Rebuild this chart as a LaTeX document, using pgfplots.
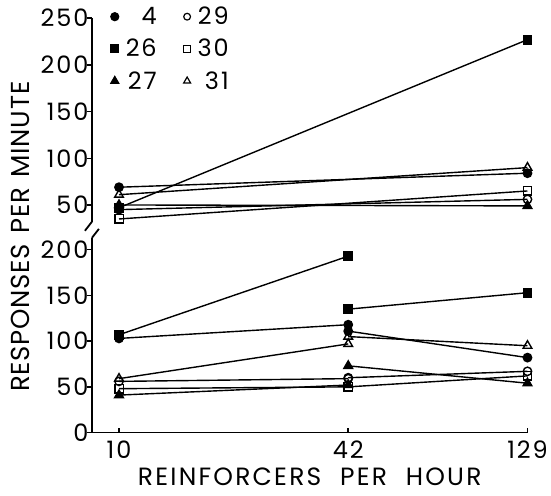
\documentclass[border=0pt]{standalone}
\usepackage{fontspec}
\setmainfont{Poppins}
\newfontfamily\labfont[LetterSpace=9]{Poppins}
\newfontfamily\ylabfont[LetterSpace=3]{Poppins}
\newfontfamily\tickfont[LetterSpace=8]{Poppins}
\usepackage{pgfplots}
\pgfplotsset{compat=1.18}
\pgfplotsset{
  fc/.style={mark=*, mark options={solid, fill=black}},
  fs/.style={mark=square*, mark options={solid, fill=black}},
  ft/.style={mark=triangle*, mark size=5pt, mark options={solid, fill=black}},
  oc/.style={mark=o, mark options={solid, fill=white}},
  os/.style={mark=square, mark options={solid, fill=white}},
  ot/.style={mark=triangle, mark size=5pt, mark options={solid, fill=white}},
}
\begin{document}
\begin{tikzpicture}
\path (0pt,0pt) rectangle (551pt,496pt);
% ---------------- top panel ----------------
\begin{axis}[
  xmode=log, xmin=8.44, xmax=129,
  scale only axis, width=436pt, clip=false,
  tick align=inside, major tick length=5pt,
  tick style={black, line width=1.5pt},
  y tick style={xshift=-5pt},
  axis line style={black, line width=1.8pt},
  ticklabel style={font=\fontsize{24}{24}\tickfont},
  /pgf/number format/assume math mode=true,
  every axis plot/.append style={black, line width=1.4pt, mark size=4.2pt},
  at={(92pt,274pt)}, anchor=south west, height=203.8pt,
  ymin=32, ymax=250, ytick={50,100,150,200,250},
  axis x line=none, axis y line*=left,
  legend columns=2, legend cell align=right,
  legend style={draw=none, fill=none, at={(axis description cs:0.036,1.075)},
    anchor=north west, font=\fontsize{24}{24}\tickfont,
    nodes={inner sep=2pt},
    /tikz/every even column/.append style={column sep=25pt},
    /tikz/every odd column/.append style={column sep=5pt},
    row sep=9pt},
]
\addlegendimage{only marks, black, line width=1.2pt, mark size=4pt, mark=*}
\addlegendentry{4}
\addlegendimage{only marks, black, line width=1.2pt, mark size=3.4pt, mark=o}
\addlegendentry{29}
\addlegendimage{only marks, black, line width=1.2pt, mark size=3.8pt, mark=square*}
\addlegendentry{26}
\addlegendimage{only marks, black, line width=1.2pt, mark size=3.4pt, mark=square}
\addlegendentry{30}
\addlegendimage{only marks, black, line width=1.2pt, mark size=4.6pt, mark=triangle*}
\addlegendentry{27}
\addlegendimage{only marks, black, line width=1.2pt, mark size=4.0pt, mark=triangle}
\addlegendentry{31}
\addplot[fc, forget plot] coordinates {(10,69) (129,84)};
\addplot[ot, forget plot] coordinates {(10,61) (129,90)};
\addplot[fs, forget plot] coordinates {(10,47) (129,227)};
\addplot[ft, forget plot] coordinates {(10,50) (129,49)};
\addplot[oc, forget plot] coordinates {(10,45) (129,56)};
\addplot[os, forget plot] coordinates {(10,35) (129,65)};
\draw[line width=1.8pt] (rel axis cs:0,0) -- ++(-7pt,-9pt);
\end{axis}
% ---------------- bottom panel ----------------
\begin{axis}[
  xmode=log, xmin=8.44, xmax=129,
  scale only axis, width=436pt, clip=false,
  tick align=inside, major tick length=5pt,
  tick style={black, line width=1.5pt},
  y tick style={xshift=-5pt},
  axis line style={black, line width=1.8pt},
  ticklabel style={font=\fontsize{24}{24}\tickfont},
  /pgf/number format/assume math mode=true,
  every axis plot/.append style={black, line width=1.4pt, mark size=4.2pt},
  at={(92pt,63pt)}, anchor=south west, height=194.9pt,
  ymin=0, ymax=213, ytick={0,50,100,150,200},
  axis lines*=left,
  xtick={10,42,129}, xticklabels={10,42,129},
  xticklabel style={yshift=-5pt},
  xlabel={REINFORCERS\hspace{0.75em}PER\hspace{0.75em}HOUR},
  xlabel style={font=\fontsize{25}{25}\labfont, at={(axis description cs:0.5,0)}, anchor=center, yshift=-44pt},
]
% subject 26
\addplot[fs] coordinates {(10,107) (42,193)};
\addplot[fs] coordinates {(42,135) (129,153)};
% subject 4
\addplot[fc] coordinates {(10,103) (42,118)};
\addplot[fc] coordinates {(42,111) (129,82)};
% subject 31
\addplot[ot] coordinates {(10,59) (42,97)};
\addplot[ot] coordinates {(42,105) (129,95)};
% subject 29
\addplot[oc] coordinates {(10,56) (42,59)};
\addplot[oc] coordinates {(42,60) (129,67)};
% subject 30
\addplot[os] coordinates {(10,48) (42,50)};
\addplot[os] coordinates {(42,50) (129,62)};
% subject 27
\addplot[ft] coordinates {(10,41) (42,52)};
\addplot[ft] coordinates {(42,73) (129,54)};
\draw[line width=1.8pt] (rel axis cs:0,1) -- ++(7pt,9pt);
\end{axis}
\node[rotate=90, font=\fontsize{26}{26}\ylabfont] at (20pt,259pt) {RESPONSES\hspace{0.4em}PER\hspace{0.4em}MINUTE};
\end{tikzpicture}
\end{document}
